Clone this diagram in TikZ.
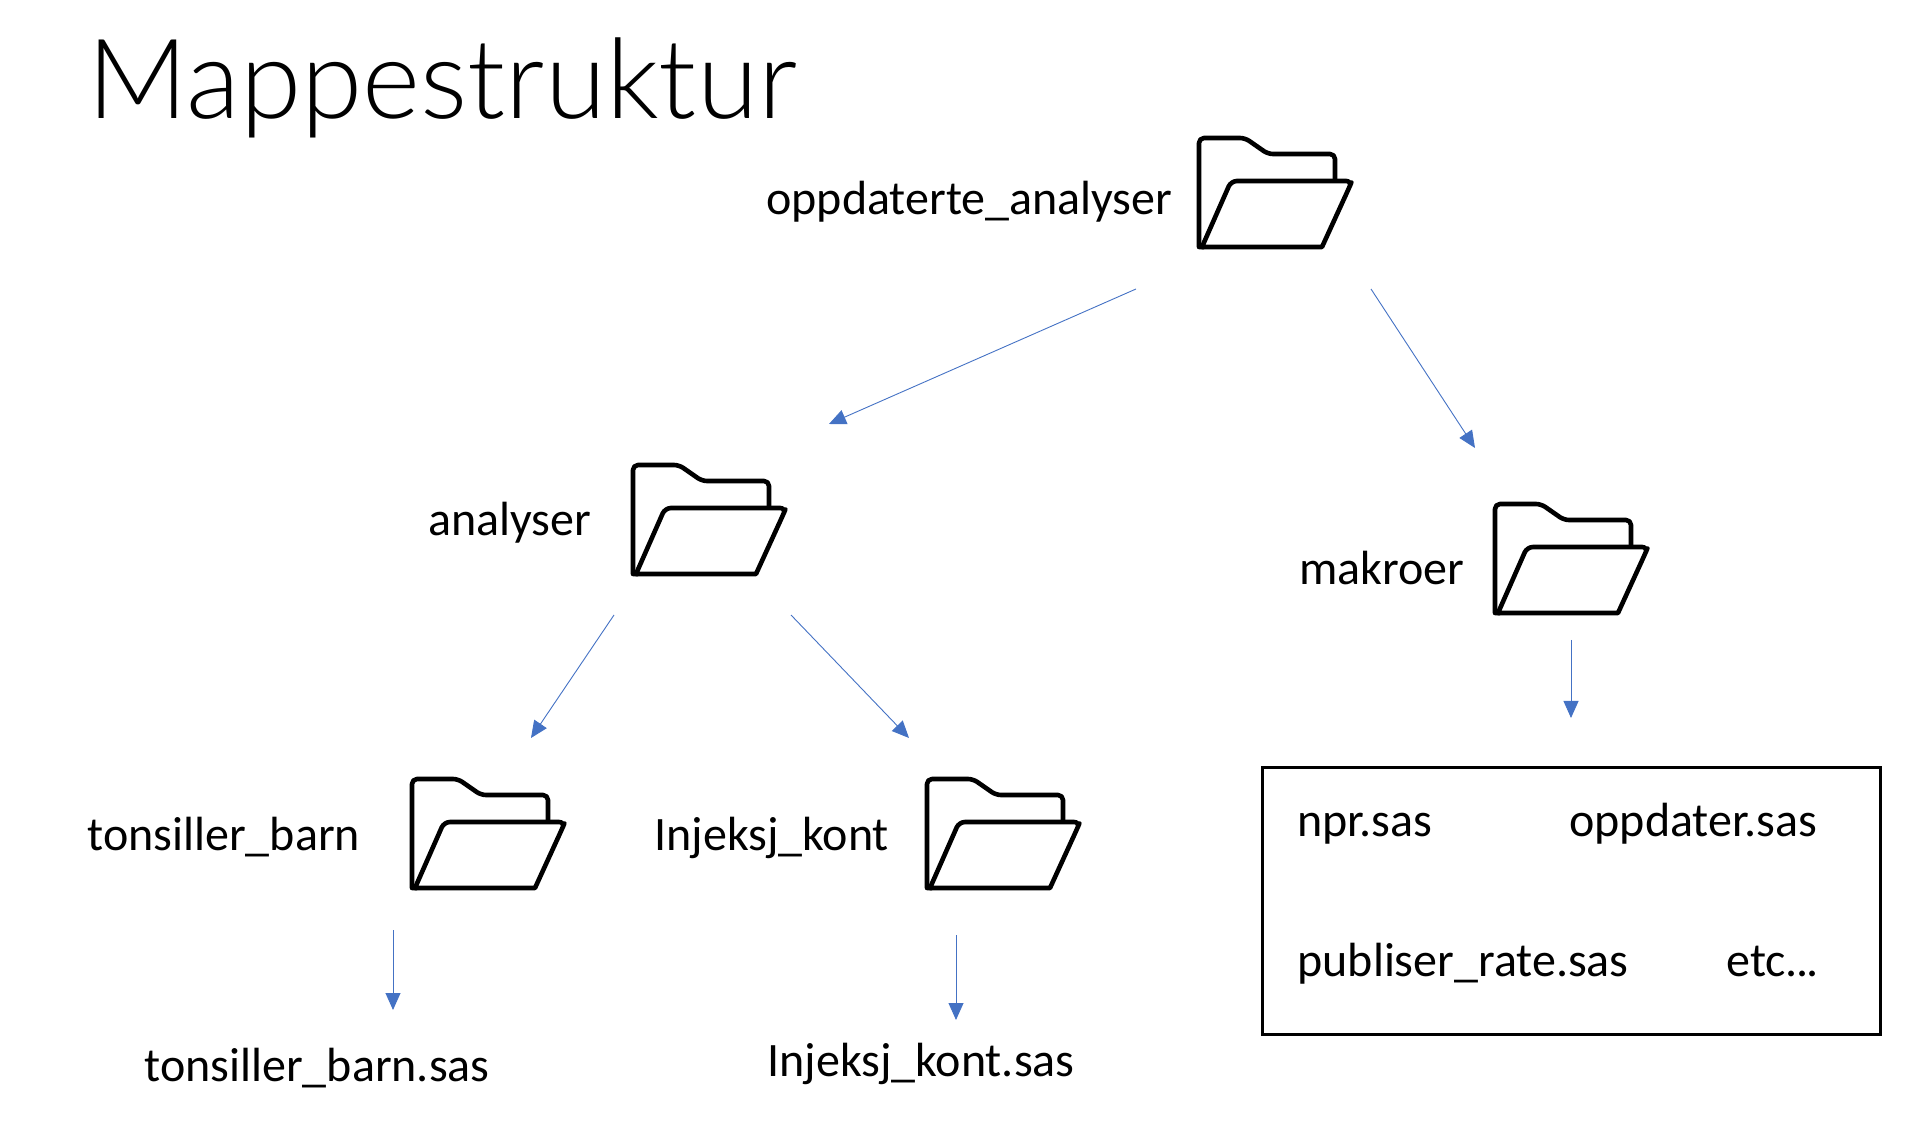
\documentclass[tikz,border=0pt]{standalone}
\usepackage{fontspec}
\setmainfont{Carlito}
\newfontfamily\titlefont[UprightFont=* Light]{Lato}
\usetikzlibrary{arrows.meta}
\definecolor{arrowblue}{HTML}{4472C4}
\tikzset{
  lbl/.style={anchor=base west,inner sep=0pt,font=\fontsize{24}{28}\selectfont},
  ttl/.style={anchor=base west,inner sep=0pt,font=\titlefont\fontsize{55.5}{66}\selectfont},
  link/.style={arrowblue,line width=0.45pt,-{Triangle[length=8.5pt,width=7.5pt]}},
  foldline/.style={line width=2.3pt,line join=round},
  pics/folder/.style={code={
    \draw[foldline] (5,109) -- (0,109) [rounded corners=2.5pt] -- (0,0) -- (46,0) -- (69,16) -- (136,16) -- (136,43);
    \draw[foldline] (3,109) -- (29,50) [rounded corners=3pt] -- (32,43) -- (153,43) -- (150,50) [sharp corners] -- (123,109) -- cycle;
  }}
}
\begin{document}
\begin{tikzpicture}[x=0.5pt,y=-0.5pt]
\useasboundingbox (0,0) rectangle (1913,1122);
\node[ttl] (title) at (87,119) {Mappestruktur};

\pic at (1199,138) {folder};
\pic at (633,465) {folder};
\pic at (1495,504) {folder};
\pic at (412,779) {folder};
\pic at (927,779) {folder};

\node[lbl] (root) at (766,215) {oppdaterte\_analyser};
\node[lbl] (ana) at (428,536) {analyser};
\node[lbl] (mak) at (1299,585) {makroer};
\node[lbl] (ton) at (87,850) {tonsiller\_barn};
\node[lbl] (inj) at (654,850) {Injeksj\_kont};
\node[lbl] (tonf) at (144,1081) {tonsiller\_barn.sas};
\node[lbl] (injf) at (767,1076) {Injeksj\_kont.sas};

\draw[line width=1.5pt] (1262,768) rectangle (1880,1034);
\node[lbl] (npr) at (1297,836) {npr.sas};
\node[lbl] (opp) at (1569,836) {oppdater.sas};
\node[lbl] (pub) at (1297,976) {publiser\_rate.sas};
\node[lbl] (etc) at (1726,976) {etc.\kern-0.8pt.\kern-0.8pt.};

\coordinate (a1s) at (1136,289); \coordinate (a1e) at (829,424);
\coordinate (a2s) at (1371,289); \coordinate (a2e) at (1475,448);
\coordinate (a3s) at (614,615);  \coordinate (a3e) at (531,738);
\coordinate (a4s) at (791,615);  \coordinate (a4e) at (909,738);
\coordinate (a5s) at (1571,640); \coordinate (a5e) at (1571,718);
\coordinate (a6s) at (393,930);  \coordinate (a6e) at (393,1010);
\coordinate (a7s) at (956,935);  \coordinate (a7e) at (956,1020);
\foreach \i in {1,...,7} \draw[link] (a\i s) -- (a\i e);
\end{tikzpicture}
\end{document}
